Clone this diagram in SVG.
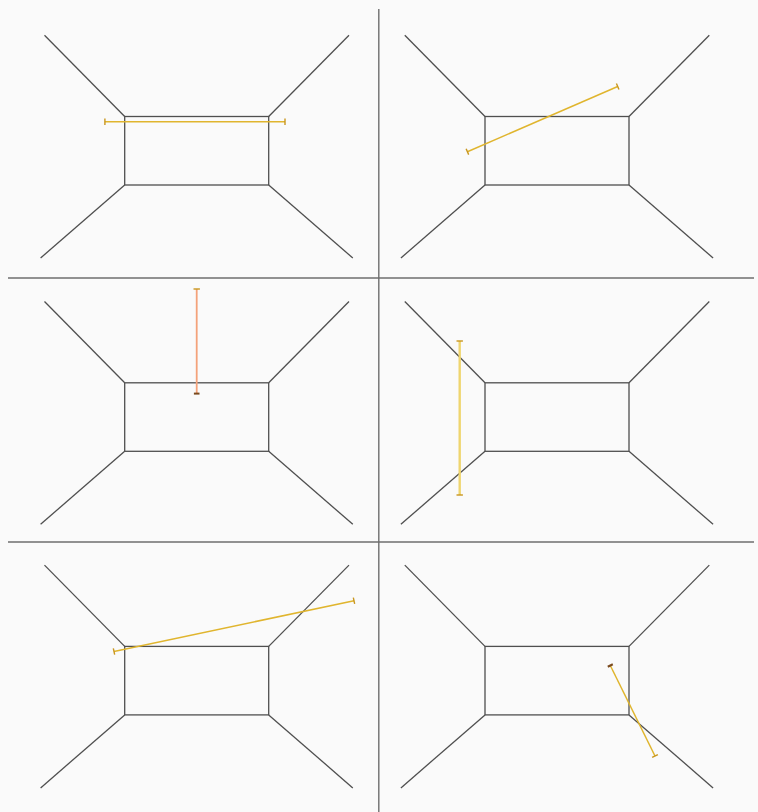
<svg xmlns="http://www.w3.org/2000/svg" width="758" height="812" viewBox="0 0 758 812">
<style>
.edge{stroke:#4f4f4f;stroke-width:1.3;fill:none}
.div{stroke:#6e6e6e;stroke-width:1.4;fill:none}
.seg{stroke:#e0b52e;stroke-width:1.5;fill:none;marker-start:url(#cap);marker-end:url(#cap)}
</style>
<defs>
<marker id="cap" viewBox="-4 -4 8 8" markerWidth="8" markerHeight="8" markerUnits="userSpaceOnUse" orient="auto">
<line x1="0" y1="-3.2" x2="0" y2="3.2" stroke="#c9961e" stroke-width="1.4"/>
</marker>
<marker id="capdark" viewBox="-4 -4 8 8" markerWidth="8" markerHeight="8" markerUnits="userSpaceOnUse" orient="auto">
<line x1="0" y1="-2.8" x2="0" y2="2.8" stroke="#7a4a1e" stroke-width="2"/>
</marker>
<g id="room">
<rect x="124.7" y="0" width="144" height="68.5" class="edge"/>
<line x1="44.5" y1="-81.3" x2="124.7" y2="0" class="edge"/>
<line x1="349" y1="-81.3" x2="268.7" y2="0" class="edge"/>
<line x1="40.6" y1="141.5" x2="124.7" y2="68.5" class="edge"/>
<line x1="352.8" y1="141.5" x2="268.7" y2="68.5" class="edge"/>
</g>
</defs>
<rect width="758" height="812" fill="#fafafa"/>
<g id="dividers">
<line x1="378.8" y1="9" x2="378.8" y2="812" class="div"/>
<line x1="8" y1="278" x2="754" y2="278" class="div"/>
<line x1="8" y1="542" x2="754" y2="542" class="div"/>
</g>
<g id="panel1"><use href="#room" transform="translate(0,116.5)"/></g>
<g id="panel2"><use href="#room" transform="translate(360.3,116.5)"/></g>
<g id="panel3"><use href="#room" transform="translate(0,382.8)"/></g>
<g id="panel4"><use href="#room" transform="translate(360.3,382.8)"/></g>
<g id="panel5"><use href="#room" transform="translate(0,646.4)"/></g>
<g id="panel6"><use href="#room" transform="translate(360.3,646.4)"/></g>
<g id="connectors">
<line x1="104.9" y1="121.7" x2="285" y2="121.7" class="seg"/>
<line x1="467.4" y1="151.7" x2="617.7" y2="86.5" class="seg"/>
<line x1="196.7" y1="289" x2="196.7" y2="393.6" class="seg" style="stroke:#f4a27a;stroke-width:1.8;marker-end:url(#capdark)"/>
<line x1="459.7" y1="341" x2="459.7" y2="495" class="seg" style="stroke:#efd56e;stroke-width:2.4"/>
<line x1="114" y1="651.5" x2="354" y2="600.7" class="seg"/>
<line x1="610.3" y1="665.5" x2="655" y2="756" class="seg" style="marker-start:url(#capdark)"/>
</g>
</svg>
